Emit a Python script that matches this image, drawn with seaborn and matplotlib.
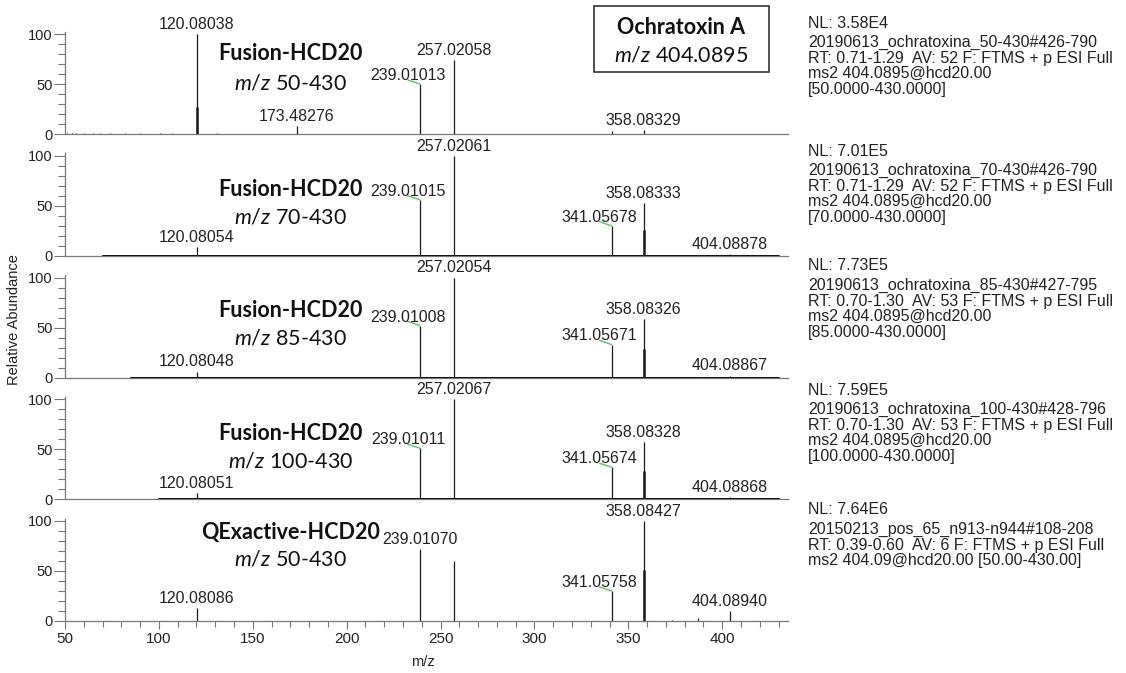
import seaborn as sns
import matplotlib.pyplot as plt
from matplotlib.patches import Rectangle
from matplotlib.ticker import MultipleLocator

# ---- data: centroided MS2 spectra of ochratoxin A (m/z, relative abundance) ----
mz_50 = [51.0, 53.6, 56.0, 60.0, 65.0, 68.7, 74.0, 82.0, 90.0, 100.7, 107.0,
         120.08038, 131.0, 173.48276, 239.01013, 257.02058, 341.06, 358.08329]
ab_50 = [0.8, 0.6, 0.8, 0.6, 0.6, 0.8, 0.6, 0.6, 0.6, 0.6, 0.6,
         100, 0.6, 8, 50, 74, 3, 4]

mz_70 = [120.08054, 239.01015, 257.02061, 341.05678, 358.08333, 387.0, 404.08878]
ab_70 = [9, 56, 100, 30, 53, 1, 2]

mz_85 = [120.08048, 239.01008, 257.02054, 341.05671, 358.08326, 387.0, 404.08867]
ab_85 = [6, 52, 100, 33, 59, 1, 2]

mz_100 = [120.08051, 239.01011, 257.02067, 341.05674, 358.08328, 387.0, 404.08868]
ab_100 = [6, 51, 100, 32, 57, 1, 2]

mz_qe = [120.08086, 239.01070, 257.02, 341.05758, 358.08427, 373.0, 387.0, 404.08940]
ab_qe = [13, 72, 60, 30, 100, 1, 3, 10]

# second (overlapping) centroid under the main peak
shoulder_mz = [120.08, 358.08, 358.08, 358.08, 358.08]
shoulder_ab = [27, 26, 29, 28, 51]

# labelled peaks
labels_50 = [120.08038, 173.48276, 239.01013, 257.02058, 358.08329]
labels_70 = [120.08054, 239.01015, 257.02061, 341.05678, 358.08333, 404.08878]
labels_85 = [120.08048, 239.01008, 257.02054, 341.05671, 358.08326, 404.08867]
labels_100 = [120.08051, 239.01011, 257.02067, 341.05674, 358.08328, 404.08868]
labels_qe = [120.08086, 239.01070, 341.05758, 358.08427, 404.08940]
# labels moved aside with a leader line
nudged = [239.01013, 239.01015, 239.01008, 239.01011,
          341.05678, 341.05671, 341.05674, 341.05758]

instruments = ['Fusion-HCD20', 'Fusion-HCD20', 'Fusion-HCD20', 'Fusion-HCD20', 'QExactive-HCD20']
scan_lo = [50, 70, 85, 100, 50]
scan_hi = 430

nl_values = ['3.58E4', '7.01E5', '7.73E5', '7.59E5', '7.64E6']
scan_info = [
    '20190613_ochratoxina_50-430#426-790\nRT: 0.71-1.29  AV: 52 F: FTMS + p ESI Full\nms2 404.0895@hcd20.00\n[50.0000-430.0000]',
    '20190613_ochratoxina_70-430#426-790\nRT: 0.71-1.29  AV: 52 F: FTMS + p ESI Full\nms2 404.0895@hcd20.00\n[70.0000-430.0000]',
    '20190613_ochratoxina_85-430#427-795\nRT: 0.70-1.30  AV: 53 F: FTMS + p ESI Full\nms2 404.0895@hcd20.00\n[85.0000-430.0000]',
    '20190613_ochratoxina_100-430#428-796\nRT: 0.70-1.30  AV: 53 F: FTMS + p ESI Full\nms2 404.0895@hcd20.00\n[100.0000-430.0000]',
    '20150213_pos_65_n913-n944#108-208\nRT: 0.39-0.60  AV: 6 F: FTMS + p ESI Full\nms2 404.09@hcd20.00 [50.00-430.00]',
]

spectra = [(mz_50, ab_50, labels_50), (mz_70, ab_70, labels_70), (mz_85, ab_85, labels_85),
           (mz_100, ab_100, labels_100), (mz_qe, ab_qe, labels_qe)]

# ---- style ----
sns.set_theme(style='ticks')
plt.rcParams['font.family'] = ['Liberation Sans', 'DejaVu Sans']
plt.rcParams['mathtext.fontset'] = 'custom'
plt.rcParams['mathtext.rm'] = 'Lato'
plt.rcParams['mathtext.it'] = 'Lato:italic'
plt.rcParams['mathtext.bf'] = 'Lato:bold'

W, H = 1126, 673
fig = plt.figure(figsize=(W / 100, H / 100), dpi=100)

gray = '#777777'
title_y = [(81, 51), (66, 38), (67, 39), (66, 38), (89, 61)]
nl_y = [23, 151, 266, 390, 510]

for i, (mz, ab, labs) in enumerate(spectra):
    base = 134 + 121.75 * i
    ax = fig.add_axes([65 / W, 1 - base / H, 723 / W, 102.5 / H])
    ax.set_xlim(50, 435)
    ax.set_ylim(0, 102.5)
    ax.set_facecolor('none')

    if scan_lo[i] > 50:
        sns.lineplot(x=[scan_lo[i], scan_hi], y=[0, 0], ax=ax, color='black', lw=1.4)

    ax.vlines(mz, 0, ab, color='#1a1a1a', lw=0.9)
    ax.vlines([shoulder_mz[i]], 0, [shoulder_ab[i]], color='#1a1a1a', lw=1.8)

    for m in labs:
        a = ab[mz.index(m)]
        if m in nudged:
            ax.annotate(f'{m:.5f}', xy=(m, a), xytext=(-12, 1), textcoords='offset pixels',
                        ha='center', va='bottom', fontsize=11.5, color='#222222',
                        annotation_clip=False,
                        arrowprops=dict(arrowstyle='-', color='#5cc45c', lw=1.0,
                                        shrinkA=0, shrinkB=0, relpos=(0.5, 0.2)))
        else:
            ax.annotate(f'{m:.5f}', xy=(m, a), xytext=(0, 2), textcoords='offset pixels',
                        ha='center', va='bottom', fontsize=11.5, color='#222222',
                        annotation_clip=False)

    ax.text(170, title_y[i][0], instruments[i], ha='center', va='center',
            fontsize=15.5, fontweight='bold', family='Lato', color='#111111')
    ax.text(170, title_y[i][1], r'$\mathit{m/z}$ ' + f'{scan_lo[i]}-{scan_hi}',
            ha='center', va='center', fontsize=15.5, family='Lato', color='#111111')

    sns.despine(ax=ax)
    for s in ['left', 'bottom']:
        ax.spines[s].set_color(gray)
        ax.spines[s].set_linewidth(0.9)

    ax.yaxis.set_major_locator(MultipleLocator(50))
    ax.yaxis.set_minor_locator(MultipleLocator(10))
    ax.tick_params(axis='y', which='major', length=8, width=0.8, color=gray,
                   labelsize=10.5, pad=1, labelcolor='#222222')
    ax.tick_params(axis='y', which='minor', length=5, width=0.8, color=gray)

    if i < 4:
        ax.tick_params(axis='x', which='both', bottom=False, labelbottom=False)
    else:
        ax.xaxis.set_major_locator(MultipleLocator(50))
        ax.xaxis.set_minor_locator(MultipleLocator(10))
        ax.tick_params(axis='x', which='major', length=6, width=0.8, color=gray,
                       labelsize=11, pad=2, labelcolor='#222222')
        ax.tick_params(axis='x', which='minor', length=4, width=0.8, color=gray)

    # instrument header at the right
    fig.text(808 / W, 1 - nl_y[i] / H, f'NL: {nl_values[i]}', ha='left', va='center',
             fontsize=11.5, color='#222222')
    fig.text(808 / W, 1 - (nl_y[i] + 12) / H, scan_info[i], ha='left', va='top',
             fontsize=11.5, color='#222222', linespacing=1.05)

fig.text(14 / W, 1 - 320 / H, 'Relative Abundance', rotation=90, ha='center', va='center',
         fontsize=10.5, color='#222222')
fig.text(423 / W, 1 - 662 / H, 'm/z', ha='center', va='center', fontsize=10.5, color='#222222')

# compound box
fig.patches.append(Rectangle((594 / W, 1 - 72 / H), 175 / W, 66 / H, transform=fig.transFigure,
                             fill=False, ec='#333333', lw=1.2))
fig.text(681 / W, 1 - 28 / H, 'Ochratoxin A', ha='center', va='center', fontsize=15.5,
         fontweight='bold', family='Lato', color='#111111')
fig.text(681 / W, 1 - 55 / H, r'$\mathit{m/z}$ 404.0895', ha='center', va='center',
         fontsize=15.5, family='Lato', color='#111111')

fig.savefig('out.png', dpi=100, facecolor='white')
